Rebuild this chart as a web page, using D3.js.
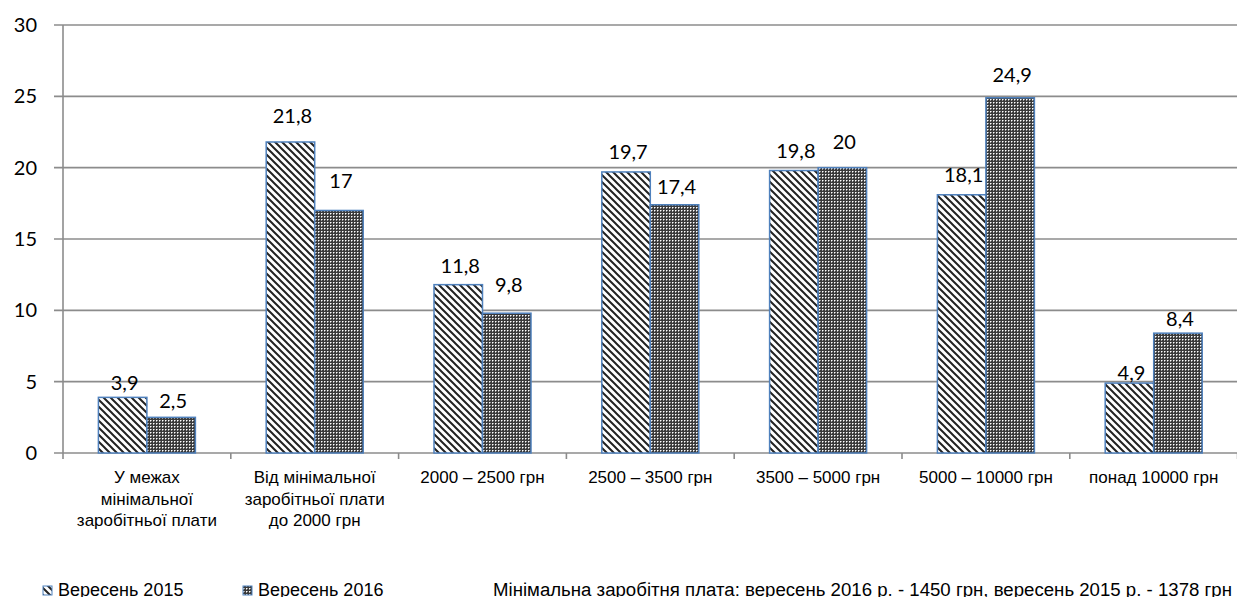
<!DOCTYPE html>
<html lang="uk">
<head>
<meta charset="UTF-8"/>
<title>Розподіл працівників за розміром заробітної плати</title>
<script src="https://d3js.org/d3.v7.min.js"></script>
<style>
  body { margin: 0; background: #fff; }
  svg { display: block; }
</style>
</head>
<body>
<script>
    // Chart data
    var categories = [
        ["У межах", "мінімальної", "заробітньої плати"],
        ["Від мінімальної", "заробітньої плати", "до 2000 грн"],
        ["2000 – 2500 грн"],
        ["2500 – 3500 грн"],
        ["3500 – 5000 грн"],
        ["5000 – 10000 грн"],
        ["понад 10000 грн"]
    ];
    var seriesNames = ["Вересень 2015", "Вересень 2016"];
    var values2015 = [3.9, 21.8, 11.8, 19.7, 19.8, 18.1, 4.9];
    var values2016 = [2.5, 17, 9.8, 17.4, 20, 24.9, 8.4];
    var yTicks = [0, 5, 10, 15, 20, 25, 30];
    var note = "Мінімальна заробітня плата: вересень 2016 р. - 1450 грн, вересень 2015 р. - 1378 грн";

    // labels were nudged by hand in the original, gap above bar top (px)
    var labelGap = [[7, 19, 12, 13, 13, 13, 3], [9, 22, 21, 11, 19, 16, 7]];

    var w = 1237, h = 597;
    var plotLeft = 63, plotRight = 1237.6, plotTop = 25, plotBottom = 453;
    var groupW = 97;

    var svg = d3.select("body").append("svg")
        .attr("width", w)
        .attr("height", h);

    var defs = svg.append("defs");

    // wide downward diagonal
    var p1 = defs.append("pattern")
        .attr("id", "diag")
        .attr("patternUnits", "userSpaceOnUse")
        .attr("width", 7).attr("height", 7);
    p1.append("rect").attr("width", 7).attr("height", 7).attr("fill", "#fff");
    p1.append("path")
        .attr("d", "M-2,-2 L9,9 M-2,5 L2,9 M5,-2 L9,2")
        .attr("stroke", "#222")
        .attr("stroke-width", 2);

    // dotted grid
    var p2 = defs.append("pattern")
        .attr("id", "dots")
        .attr("patternUnits", "userSpaceOnUse")
        .attr("width", 3).attr("height", 3);
    p2.append("rect").attr("width", 3).attr("height", 3).attr("fill", "#3a3a3a");
    p2.append("rect").attr("x", 0).attr("y", 0).attr("width", 1).attr("height", 1).attr("fill", "#fff");
    p2.append("rect").attr("x", 1).attr("y", 0).attr("width", 1).attr("height", 1).attr("fill", "#a0a0a0");
    p2.append("rect").attr("x", 0).attr("y", 1).attr("width", 1).attr("height", 1).attr("fill", "#a0a0a0");

    var fills = ["url(#diag)", "url(#dots)"];

    var x = d3.scaleBand()
        .domain(d3.range(categories.length))
        .range([plotLeft, plotRight]);

    var xInner = d3.scaleBand()
        .domain([0, 1])
        .range([0, groupW]);

    var y = d3.scaleLinear()
        .domain([0, 30])
        .range([plotBottom, plotTop]);

    // gridlines
    svg.append("g")
        .selectAll("line")
        .data(yTicks)
        .enter()
        .append("line")
        .attr("x1", plotLeft - 9)
        .attr("x2", w)
        .attr("y1", function(d) { return y(d); })
        .attr("y2", function(d) { return y(d); })
        .attr("stroke", "#8c8c8c")
        .attr("stroke-width", 1.6);

    // y tick labels
    svg.append("g")
        .selectAll("text")
        .data(yTicks)
        .enter()
        .append("text")
        .attr("x", 37)
        .attr("y", function(d) { return y(d) + 7; })
        .attr("text-anchor", "end")
        .attr("font-family", "Lato, 'Open Sans', sans-serif")
        .attr("font-size", "20px")
        .attr("fill", "#000")
        .text(function(d) { return d; });

    // axis lines
    svg.append("line")
        .attr("x1", plotLeft).attr("x2", plotLeft)
        .attr("y1", plotTop).attr("y2", plotBottom)
        .attr("stroke", "#8c8c8c").attr("stroke-width", 1.6);

    svg.append("g")
        .selectAll("line")
        .data(d3.range(categories.length + 1))
        .enter()
        .append("line")
        .attr("x1", function(d) { return plotLeft + d * x.step(); })
        .attr("x2", function(d) { return plotLeft + d * x.step(); })
        .attr("y1", plotBottom)
        .attr("y2", plotBottom + 6)
        .attr("stroke", "#8c8c8c").attr("stroke-width", 1.6);

    // bars
    var series = [values2015, values2016];
    series.forEach(function(vals, s) {
        svg.append("g")
            .selectAll("rect")
            .data(vals)
            .enter()
            .append("rect")
            .attr("x", function(d, i) {
                return x(i) + (x.bandwidth() - groupW) / 2 + xInner(s);
            })
            .attr("y", function(d) { return y(d); })
            .attr("width", xInner.bandwidth())
            .attr("height", function(d) { return plotBottom - y(d); })
            .attr("fill", fills[s])
            .attr("stroke", "#4f81bd")
            .attr("stroke-width", 1.5);
    });

    // value labels
    series.forEach(function(vals, s) {
        svg.append("g")
            .selectAll("text")
            .data(vals)
            .enter()
            .append("text")
            .attr("x", function(d, i) {
                return x(i) + (x.bandwidth() - groupW) / 2 + xInner(s) + xInner.bandwidth() / 2 + 2;
            })
            .attr("y", function(d, i) { return y(d) - labelGap[s][i]; })
            .attr("text-anchor", "middle")
            .attr("font-family", "Lato, 'Open Sans', sans-serif")
            .attr("font-size", "20px")
            .attr("fill", "#000")
            .text(function(d) { return String(d).replace(".", ","); });
    });

    // category labels
    var cat = svg.append("g")
        .selectAll("text")
        .data(categories)
        .enter()
        .append("text")
        .attr("text-anchor", "middle")
        .attr("font-family", "'Liberation Sans', Arial, sans-serif")
        .attr("font-size", "17px")
        .attr("fill", "#000");

    cat.selectAll("tspan")
        .data(function(d, i) {
            return d.map(function(t) { return { t: t, i: i }; });
        })
        .enter()
        .append("tspan")
        .attr("x", function(d) { return x(d.i) + x.bandwidth() / 2; })
        .attr("y", function(d, j) { return 483 + j * 21.7; })
        .text(function(d) { return d.t; });

    // legend
    var legend = svg.append("g")
        .selectAll("g")
        .data(seriesNames)
        .enter()
        .append("g")
        .attr("transform", function(d, i) { return "translate(" + (43 + i * 200) + ",0)"; });

    legend.append("rect")
        .attr("x", 0).attr("y", 586)
        .attr("width", 9).attr("height", 9)
        .attr("fill", function(d, i) { return fills[i]; })
        .attr("stroke", "#4f81bd")
        .attr("stroke-width", 1);

    legend.append("text")
        .attr("x", 15)
        .attr("y", 596)
        .attr("font-family", "'Liberation Sans', Arial, sans-serif")
        .attr("font-size", "18px")
        .attr("fill", "#000")
        .text(function(d) { return d; });

    // footnote
    svg.append("text")
        .attr("x", 493)
        .attr("y", 596)
        .attr("font-family", "'Liberation Sans Narrow', 'Liberation Sans', Arial, sans-serif")
        .attr("font-size", "18px")
        .attr("textLength", 739)
        .attr("lengthAdjust", "spacingAndGlyphs")
        .attr("fill", "#000")
        .text(note);
</script>
</body>
</html>
